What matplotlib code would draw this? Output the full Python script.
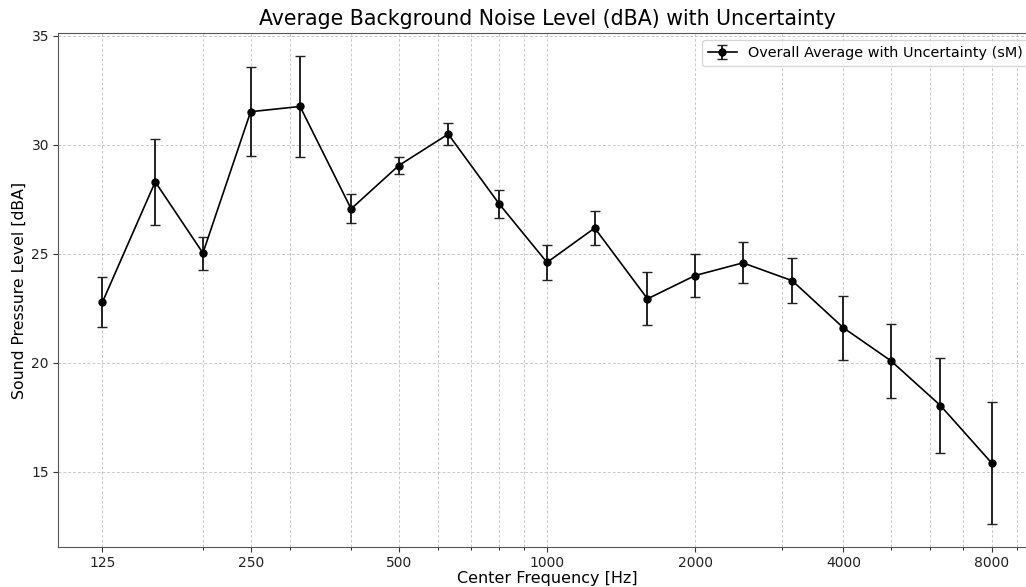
import matplotlib
matplotlib.use("Agg")
import matplotlib.pyplot as plt
from matplotlib.ticker import FixedLocator, FixedFormatter, LogLocator, NullFormatter

plt.rcParams["font.family"] = ["DejaVu Sans"]

# One-third octave band centre frequencies [Hz]
freqs = [125, 160, 200, 250, 315, 400, 500, 630, 800, 1000,
         1250, 1600, 2000, 2500, 3150, 4000, 5000, 6300, 8000]

# Overall average background noise level [dBA]
levels = [22.78, 28.30, 25.03, 31.52, 31.76, 27.06, 29.05, 30.49, 27.28, 24.60,
          26.18, 22.93, 24.00, 24.58, 23.76, 21.60, 20.08, 18.03, 15.40]

# Uncertainty of the mean (sM) [dB]
uncert = [1.16, 1.97, 0.76, 2.05, 2.30, 0.66, 0.41, 0.50, 0.65, 0.79,
          0.80, 1.22, 1.00, 0.94, 1.03, 1.48, 1.71, 2.17, 2.79]

tick_freqs = [125, 250, 500, 1000, 2000, 4000, 8000]
tick_labels = ["125", "250", "500", "1000", "2000", "4000", "8000"]

W, H = 1026, 587
fig = plt.figure(figsize=(W / 100, H / 100), dpi=100)
ax = fig.add_axes([58 / W, (H - 547) / H, (1036 - 58) / W, (547 - 33) / H])

ax.errorbar(freqs, levels, yerr=uncert, fmt="-o", color="black",
            ecolor="#222222", elinewidth=1.4, capsize=3.5, linewidth=1.2,
            markersize=5, label="Overall Average with Uncertainty (sM)")

ax.set_xscale("log")
ax.xaxis.set_major_locator(FixedLocator(tick_freqs))
ax.xaxis.set_major_formatter(FixedFormatter(tick_labels))
ax.xaxis.set_minor_locator(LogLocator(base=10, subs=range(2, 10)))
ax.xaxis.set_minor_formatter(NullFormatter())

ax.grid(True, which="both", linestyle=(0, (3, 2)), linewidth=0.7,
        color="#bbbbbb", alpha=0.8)
for side in ax.spines.values():
    side.set_color("#555555")

ax.set_title("Average Background Noise Level (dBA) with Uncertainty", fontsize=14.8)
ax.set_xlabel("Center Frequency [Hz]", fontsize=11.5, labelpad=1)
ax.set_ylabel("Sound Pressure Level [dBA]", fontsize=11.3, labelpad=3)
ax.tick_params(axis="both", labelsize=10, pad=3, colors="#333333", labelcolor="#222222")

ax.legend(loc="upper right", fontsize=10.4)

fig.savefig("out.png", dpi=100)
